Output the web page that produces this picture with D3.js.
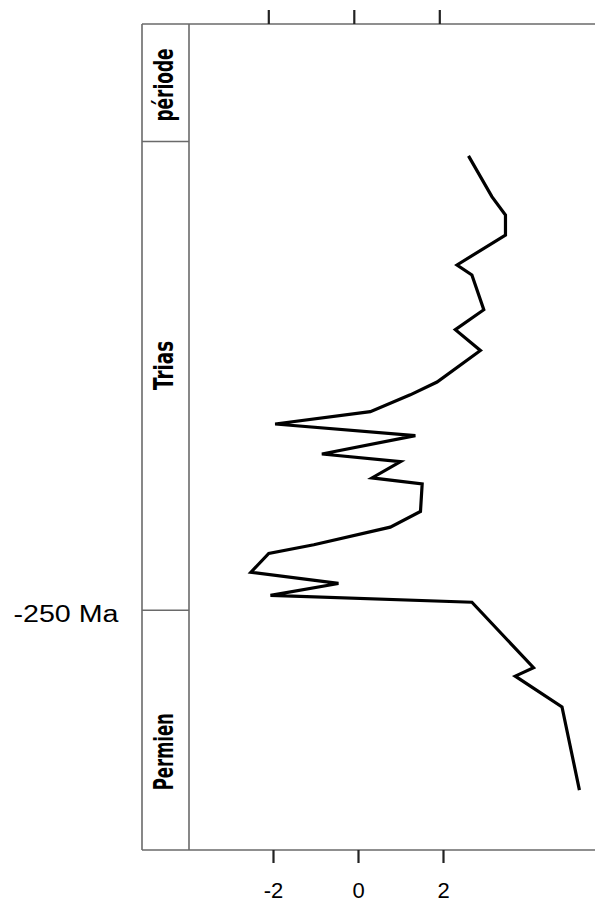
<!DOCTYPE html>
<html>
<head>
<meta charset="utf-8">
<script src="https://cdn.jsdelivr.net/npm/d3@7"></script>
<style>
  html, body { margin: 0; padding: 0; background: #fff; }
  svg { display: block; }
</style>
</head>
<body>
<script>
// ---- data ----
const ages = [-238.63, -239.65, -240.11, -240.61, -241.36, -241.61, -242.48, -242.98, -243.50,
              -244.29, -244.61, -245.03, -245.34, -245.63, -246.09, -246.28, -246.69, -246.84,
              -247.53, -247.92, -248.36, -248.58, -249.05, -249.33, -249.63, -249.80,
              -251.44, -251.65, -252.42, -254.50];
const values = [2.60, 3.15, 3.47, 3.47, 2.33, 2.68, 2.96, 2.29, 2.88,
                1.86, 1.23, 0.29, -1.95, 1.35, -0.85, 1.00, 0.33, 1.51,
                1.47, 0.76, -1.04, -2.10, -2.52, -0.46, -2.06, 2.68,
                4.13, 3.70, 4.80, 5.21];
const xTicks = [-2, 0, 2];
const xTickLabels = ["-2", "0", "2"];
const periods = ["Trias", "Permien"];
const periodBounds = [[-238.27, -250], [-250, -256]]; // top, bottom age
const headerLabel = "période";
const boundaryAge = -250;
const boundaryLabel = "-250 Ma";

// ---- layout ----
(function () {
const W = 595, H = 902;
const colL = 142, colR = 189, plotTop = 24, plotBottom = 850;

const svg = d3.select("body").append("svg").attr("width", W).attr("height", H);

const x = d3.scaleLinear().domain([-2, 2]).range([273, 443]);
const xTop = d3.scaleLinear().domain([-2, 2]).range([268.3, 439.3]);
const y = d3.scaleLinear().domain([-256, -235.33]).range([plotBottom, plotTop]);

const grey = "#6a6a6a";

// frame lines
svg.append("line").attr("x1", colL).attr("x2", W).attr("y1", plotTop).attr("y2", plotTop)
  .attr("stroke", grey).attr("stroke-width", 1.6);
svg.append("line").attr("x1", colL).attr("x2", W).attr("y1", plotBottom).attr("y2", plotBottom)
  .attr("stroke", grey).attr("stroke-width", 1.6);
svg.append("line").attr("x1", colL).attr("x2", colL).attr("y1", plotTop).attr("y2", plotBottom)
  .attr("stroke", grey).attr("stroke-width", 1.6);
svg.append("line").attr("x1", colR).attr("x2", colR).attr("y1", plotTop).attr("y2", plotBottom)
  .attr("stroke", grey).attr("stroke-width", 1.6);

// period separators
const seps = [periodBounds[0][0], boundaryAge];
svg.selectAll("line.sep").data(seps).enter().append("line")
  .attr("class", "sep")
  .attr("x1", colL).attr("x2", colR)
  .attr("y1", d => y(d)).attr("y2", d => y(d))
  .attr("stroke", grey).attr("stroke-width", 1.6);

// axes ticks
const topAxis = d3.axisTop(xTop).tickValues(xTicks).tickSize(14).tickFormat("");
const gTop = svg.append("g").attr("transform", `translate(0,${plotTop})`).call(topAxis);
gTop.select(".domain").remove();
gTop.selectAll(".tick line").attr("stroke", "#222").attr("stroke-width", 2.2);

const botAxis = d3.axisBottom(x).tickValues(xTicks).tickSize(13)
  .tickFormat((d, i) => xTickLabels[i]).tickPadding(19);
const gBot = svg.append("g").attr("transform", `translate(0,${plotBottom})`).call(botAxis);
gBot.select(".domain").remove();
gBot.selectAll(".tick line").attr("stroke", "#222").attr("stroke-width", 2.2);
gBot.selectAll(".tick text")
  .attr("font-family", "Liberation Sans, Arial, sans-serif")
  .attr("font-size", 22).attr("fill", "#000")
  .attr("dy", "0.71em");

// period labels (rotated)
const labelFont = "'Liberation Sans Narrow', 'DejaVu Sans Condensed', 'Liberation Sans', sans-serif";
const labelData = [
  { text: headerLabel, yc: 85, len: 73 },
  { text: periods[0], yc: 365.4, len: 49 },
  { text: periods[1], yc: 751.7, len: 77 }
];
svg.selectAll("text.period").data(labelData).enter().append("text")
  .attr("class", "period")
  .attr("transform", d => `translate(172.5,${d.yc}) rotate(-90)`)
  .attr("text-anchor", "middle")
  .attr("font-family", labelFont)
  .attr("font-weight", "bold")
  .attr("font-size", 27)
  .attr("textLength", d => d.len)
  .attr("lengthAdjust", "spacingAndGlyphs")
  .text(d => d.text);

// boundary label
svg.append("text")
  .attr("x", 13.5).attr("y", y(boundaryAge) + 11.5)
  .attr("font-family", "Liberation Sans, Arial, sans-serif")
  .attr("font-size", 23)
  .attr("textLength", 105)
  .attr("lengthAdjust", "spacingAndGlyphs")
  .attr("fill", "#000")
  .text(boundaryLabel);

// data line
const pts = ages.map((a, i) => [a, values[i]]);
const line = d3.line().x(d => x(d[1])).y(d => y(d[0]));
svg.append("path").datum(pts)
  .attr("d", line)
  .attr("fill", "none")
  .attr("stroke", "#000")
  .attr("stroke-width", 3.2)
  .attr("stroke-linejoin", "miter");
})();
</script>
</body>
</html>
